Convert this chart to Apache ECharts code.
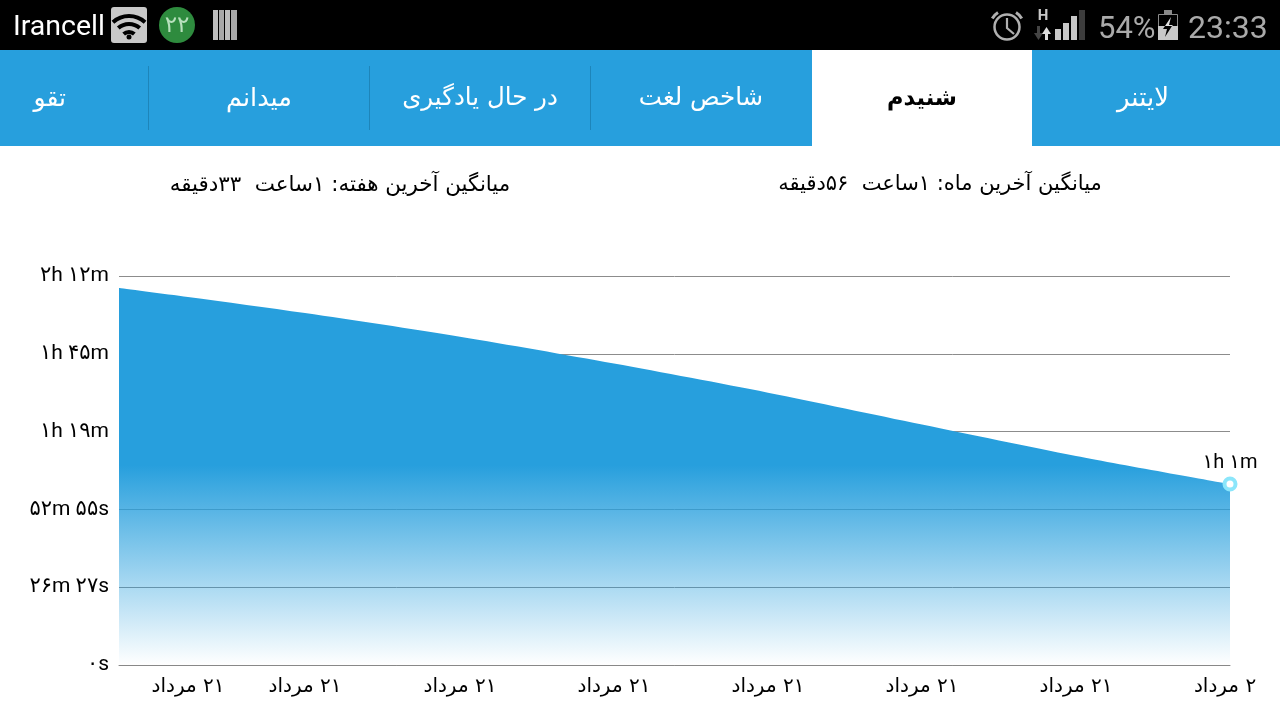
<!DOCTYPE html>
<html><head><meta charset="utf-8">
<style>html,body{margin:0;padding:0;background:#fff}#c{width:1280px;height:720px}</style>
<script src="https://cdn.jsdelivr.net/npm/echarts@6/dist/echarts.min.js"></script>
</head><body><div id="c"></div>
<script>
const timeUnits=[0,0.448,1.208,2.214,3.214,4.214,5.214,6.214,7.214];
const secondsListened=[7692,7509,7180,6697,6150,5556,4907,4266,3693];
const yTickLabels=['۰s','۲۶m ۲۷s','۵۲m ۵۵s','۱h ۱۹m','۱h ۴۵m','۲h ۱۲m'];
const yStep=1587.4;
const xLabelValues=[0.448,1.208,2.214,3.214,4.214,5.214,6.214,7.182];
const xLabels=['۲۱ مرداد','۲۱ مرداد','۲۱ مرداد','۲۱ مرداد','۲۱ مرداد','۲۱ مرداد','۲۱ مرداد','۲ مرداد'];
const lastPointLabel='۱h ۱m';
const tabs=['لایتنر','شنیدم','شاخص لغت','در حال یادگیری','میدانم','تقو'];
const monthAverage='میانگین آخرین ماه: ۱ساعت  ۵۶دقیقه';
const weekAverage='میانگین آخرین هفته: ۱ساعت  ۳۳دقیقه';

const FA='"DejaVu Sans"';
const MIX='Roboto, "DejaVu Sans"';
const BLUE='#279fdd';
const RLM='\u200f';
const txt=(x,y,t,size,fill,align,family,weight)=>({type:'text',x,y,z:10,style:{text:t,fontSize:size,fill,align:align||'center',verticalAlign:'middle',fontFamily:family||FA,fontWeight:weight||'normal'}});
const rect=(x,y,w,h,fill,r)=>({type:'rect',shape:{x,y,width:w,height:h,r:r||0},style:{fill},z:5});
const arc=(cx,cy,r,a,b,col,lw)=>({type:'arc',shape:{cx,cy,r,startAngle:a,endAngle:b},style:{stroke:col,lineWidth:lw,fill:'none'},z:7});
const D=Math.PI/180;
const graphics=[
 rect(0,0,1280,50,'#000'),
 rect(0,50,1280,96,BLUE),
 rect(812,50,220,96,'#fff'),
 rect(148,66,1,64,'#1d85ba'),rect(369,66,1,64,'#1d85ba'),rect(590,66,1,64,'#1d85ba'),
 txt(1143,99,tabs[0],26,'#fff'),
 txt(922,99,tabs[1],22.5,'#000','center',FA,'bold'),
 txt(701,99,tabs[2],24.5,'#fff'),
 txt(480,99,tabs[3],24.5,'#fff'),
 txt(259,99,tabs[4],25.5,'#fff'),
 txt(66,99,tabs[5],25,'#fff','right'),
 txt(940,185,monthAverage,21,'#000'),
 txt(340,185,weekAverage,21.4,'#000'),
 txt(13,28,'Irancell',28.5,'#fff','left','Roboto'),
 rect(111,7,36,36,'#c8c8c8',3),
 arc(129,40,24,-132*D,-48*D,'#000',4),
 arc(129,40,16,-132*D,-48*D,'#000',4),
 arc(129,40,8,-132*D,-48*D,'#000',4),
 {type:'circle',shape:{cx:129,cy:37,r:2.5},style:{fill:'#000'},z:7},
 {type:'circle',shape:{cx:177,cy:25,r:18},style:{fill:'#2e8b3e'},z:6},
 txt(177,26,'۲۲',23,'#b8e0bd'),
 rect(213,10,5,30,'#bdbdbd'),rect(219,10,5,30,'#a8a8a8'),rect(225,10,5,30,'#bdbdbd'),rect(231,10,6,30,'#a8a8a8'),
 {type:'circle',shape:{cx:1007,cy:27,r:12.5},style:{fill:'none',stroke:'#b0b0b0',lineWidth:2.5},z:6},
 {type:'polyline',shape:{points:[[1007,18],[1007,28],[1014,34]]},style:{stroke:'#b0b0b0',lineWidth:2.2,fill:'none'},z:6},
 arc(1007,27,17,-150*D,-122*D,'#b0b0b0',3),
 arc(1007,27,17,-58*D,-30*D,'#b0b0b0',3),
 txt(1043,16,'H',15,'#c8c8c8','center','Roboto','bold'),
 rect(1037,26,3,8,'#444'),
 {type:'polygon',shape:{points:[[1034,33],[1043,33],[1038.5,40]]},style:{fill:'#444'},z:6},
 {type:'polygon',shape:{points:[[1042,34],[1046.5,27],[1051,34]]},style:{fill:'#ddd'},z:6},
 rect(1045,34,3,6,'#ddd'),
 rect(1055,29,6,11,'#c8c8c8'),rect(1063,23,6,17,'#c8c8c8'),rect(1071,16,6,24,'#c8c8c8'),rect(1079,10,6,30,'#3c3c3c'),
 txt(1098,30,'54%',31,'#aaaaaa','left','Roboto'),
 {type:'rect',shape:{x:1158.5,y:14.5,width:19,height:25},style:{fill:'#000',stroke:'#8a8a8a',lineWidth:1},z:5},
 rect(1164,10,8,4,'#8a8a8a'),
 rect(1158,26,20,14,'#c8c8c8'),
 {type:'polygon',shape:{points:[[1171,17],[1165,26],[1172,26],[1173,25],[1169,25]]},style:{fill:'#e0e0e0'},z:7},
 {type:'polygon',shape:{points:[[1165,26],[1163,29],[1167,29],[1165,37],[1172,26]]},style:{fill:'#000'},z:7},
 txt(1188,30,'23:33',32,'#aaaaaa','left','Roboto')
];
const chart=echarts.init(document.getElementById('c'),null,{renderer:'canvas',width:1280,height:720});
const lastIdx=secondsListened.length-1;
const seriesData=timeUnits.map((t,i)=>{
 if(i!==lastIdx) return {value:[t,secondsListened[i]],symbol:'none'};
 return {value:[t,secondsListened[i]],symbol:'circle',symbolSize:11,
  itemStyle:{color:'#fff',borderColor:'#8be6fb',borderWidth:4,opacity:1},
  label:{show:true,position:'top',distance:4,formatter:lastPointLabel,fontFamily:MIX,fontSize:20,color:'#000'}};
});
chart.setOption({
 animation:false,
 backgroundColor:'#fff',
 graphic:{elements:graphics},
 grid:{left:119,right:50,top:276,bottom:55,containLabel:false},
 xAxis:{type:'value',min:0,max:timeUnits[lastIdx],splitLine:{show:false},
  axisLine:{show:true,onZero:true,lineStyle:{color:'#888',width:1}},axisTick:{show:false},
  axisLabel:{customValues:xLabelValues,margin:12,fontFamily:FA,fontSize:20,color:'#000',hideOverlap:false,
   formatter:(v)=>RLM+xLabels[xLabelValues.findIndex(t=>Math.abs(t-v)<1e-6)]}},
 yAxis:{type:'value',min:0,max:yStep*5,interval:yStep,
  axisLine:{show:false},axisTick:{show:false},
  splitLine:{show:true,lineStyle:{color:'#8c8c8c',width:1}},
  axisLabel:{margin:10,fontFamily:MIX,fontSize:21,color:'#000',verticalAlign:'middle',lineHeight:20,padding:[0,0,3,0],
   formatter:(v)=>yTickLabels[Math.round(v/yStep)]}},
 series:[{type:'line',smooth:0.3,showSymbol:true,showAllSymbol:true,clip:false,
  data:seriesData,
  lineStyle:{width:0},
  areaStyle:{opacity:1,color:{type:'linear',x:0,y:0,x2:0,y2:1,colorStops:[{offset:0,color:'rgba(39,159,221,1)'},{offset:0.47,color:'rgba(39,159,221,1)'},{offset:1,color:'rgba(39,159,221,0)'}]}}
 }]
});
</script></body></html>
